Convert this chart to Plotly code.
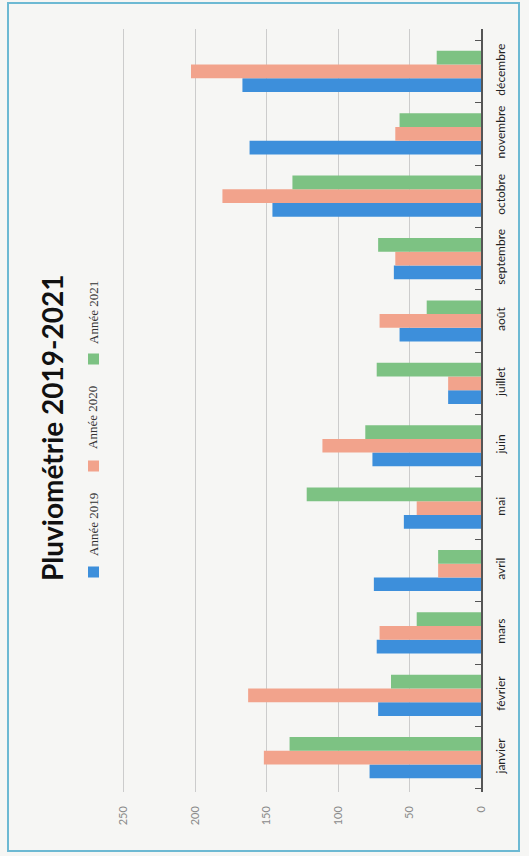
import plotly.graph_objects as go

months = ["janvier", "février", "mars", "avril", "mai", "juin", "juillet",
          "août", "septembre", "octobre", "novembre", "décembre"]
annee_2019 = [78, 72, 73, 75, 54, 76, 23, 57, 61, 146, 162, 167]
annee_2020 = [152, 163, 71, 30, 45, 111, 23, 71, 60, 181, 60, 203]
annee_2021 = [134, 63, 45, 30, 122, 81, 73, 38, 72, 132, 57, 31]
series_names = ["Année 2019", "Année 2020", "Année 2021"]
colors = ["#3d8fdb", "#f2a38c", "#7dc283"]
value_ticks = [0, 50, 100, 150, 200, 250]
title_text = "Pluviométrie 2019-2021"

W, H = 529, 856
L, R, T, B = 121, 48, 29, 64
PW, PH = W - L - R, H - T - B


def px(x):
    return (x - L) / PW


def py(y):
    return (H - B - y) / PH


fig = go.Figure()
for name, vals, col in zip(series_names, [annee_2019, annee_2020, annee_2021], colors):
    fig.add_trace(go.Bar(y=months, x=vals, name=name, orientation="h",
                         marker=dict(color=col, line=dict(width=0)),
                         showlegend=False))

shapes = [
    dict(type="rect", xref="paper", yref="paper",
         x0=px(8), x1=px(519), y0=py(851), y1=py(3),
         line=dict(color="#6db9d3", width=2), fillcolor="rgba(0,0,0,0)", layer="below"),
]
annotations = [
    dict(text=f"<b>{title_text}</b>", textangle=-90, xref="paper", yref="paper",
         x=px(52), y=py(428), xanchor="center", yanchor="middle", showarrow=False,
         font=dict(family="Lato", size=28, color="#111111")),
]
leg_sq = [572, 466, 359]
leg_txt = [525, 418, 313]
for name, col, sy, ty in zip(series_names, colors, leg_sq, leg_txt):
    shapes.append(dict(type="rect", xref="paper", yref="paper",
                       x0=px(88), x1=px(99), y0=py(sy + 5.5), y1=py(sy - 5.5),
                       line=dict(width=0), fillcolor=col))
    annotations.append(dict(text=name, textangle=-90, xref="paper", yref="paper",
                            x=px(93), y=py(ty), xanchor="center", yanchor="middle",
                            showarrow=False,
                            font=dict(family="Liberation Serif", size=13, color="#333333")))

fig.update_layout(
    width=W, height=H, autosize=False,
    margin=dict(l=L, r=R, t=T, b=B),
    paper_bgcolor="#f6f6f4", plot_bgcolor="#f6f6f4",
    barmode="group", bargap=0.34, bargroupgap=0,
    shapes=shapes, annotations=annotations,
    xaxis=dict(range=[252, 0], tickvals=value_ticks, tickangle=-90,
               showgrid=True, gridcolor="#cccccc", gridwidth=1, zeroline=False,
               showline=False, ticks="", ticklabelstandoff=11,
               tickfont=dict(family="Lato", size=11, color="#8a8a8a")),
    yaxis=dict(side="right", range=[-0.55, 11.68], tickangle=-90,
               showline=True, linecolor="#555555", linewidth=1.5,
               ticks="inside", tickson="boundaries", ticklen=6, tickcolor="#555555",
               showgrid=False, zeroline=False, ticklabelstandoff=8,
               tickfont=dict(family="Lato", size=12, color="#222222")),
)

fig.write_html("out.html")
